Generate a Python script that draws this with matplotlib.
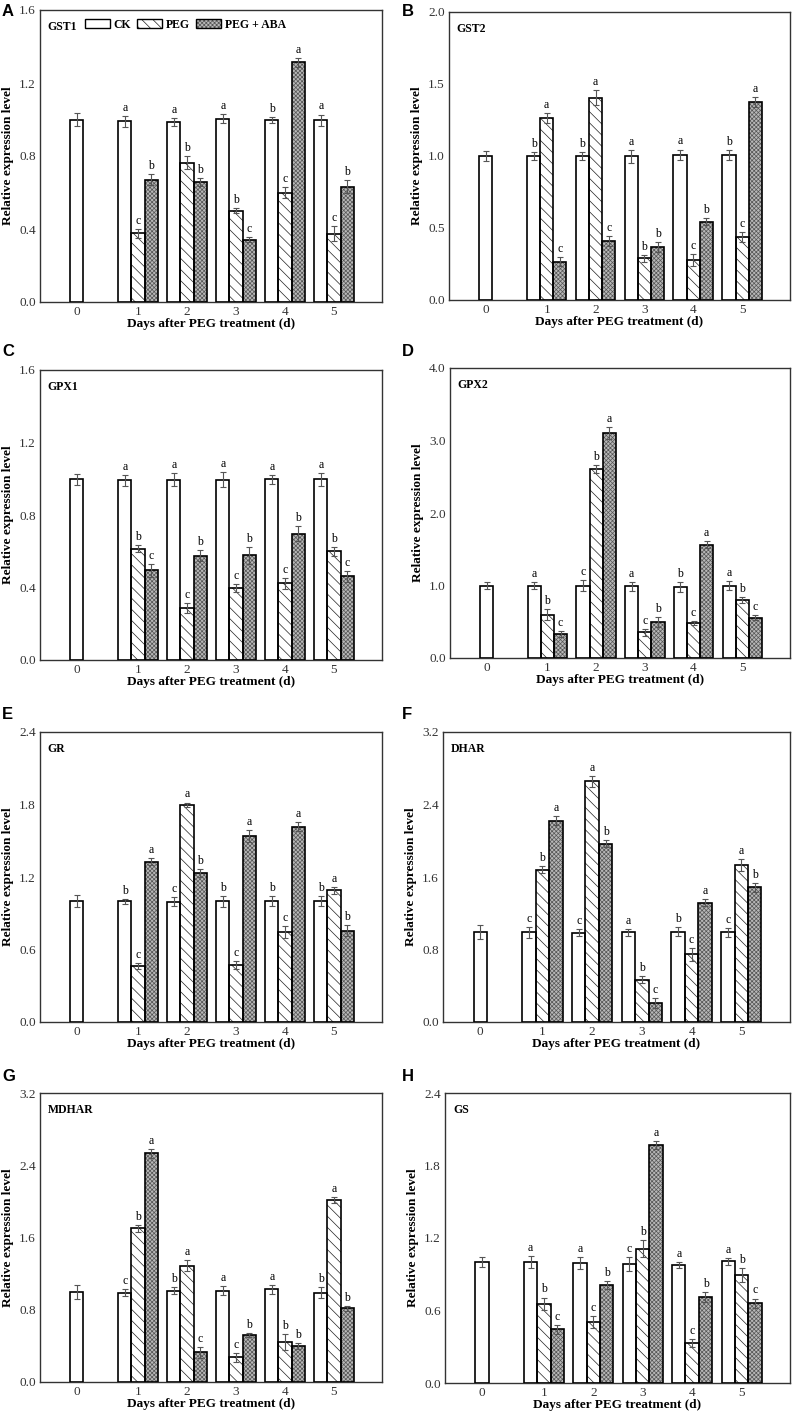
import numpy as np
import matplotlib.pyplot as plt
from matplotlib.patches import Patch
from matplotlib.legend_handler import HandlerTuple

plt.rcParams['font.family'] = ['Liberation Serif', 'DejaVu Serif']
plt.rcParams['hatch.linewidth'] = 0.5

days = ['0', '1', '2', '3', '4', '5']

# values: CK has day 0..5, PEG and PEG+ABA day 1..5
gst1_ck = [1.00, 0.99, 0.986, 1.004, 0.997, 0.997]
gst1_ck_err = [0.035, 0.03, 0.02, 0.025, 0.015, 0.03]
gst1_peg = [0.377, 0.764, 0.50, 0.598, 0.375]
gst1_peg_err = [0.025, 0.035, 0.015, 0.03, 0.04]
gst1_aba = [0.671, 0.658, 0.342, 1.313, 0.631]
gst1_aba_err = [0.03, 0.02, 0.015, 0.025, 0.035]
gst1_letters = ['acb', 'abb', 'abc', 'bca', 'acb']

gst2_ck = [1.00, 1.00, 1.00, 0.997, 1.01, 1.006]
gst2_ck_err = [0.035, 0.03, 0.03, 0.045, 0.035, 0.035]
gst2_peg = [1.262, 1.406, 0.289, 0.277, 0.435]
gst2_peg_err = [0.035, 0.05, 0.025, 0.04, 0.035]
gst2_aba = [0.266, 0.407, 0.37, 0.543, 1.376]
gst2_aba_err = [0.03, 0.035, 0.035, 0.025, 0.035]
gst2_letters = ['bac', 'bac', 'abb', 'acb', 'bca']

gpx1_ck = [0.997, 0.991, 0.995, 0.995, 0.997, 0.997]
gpx1_ck_err = [0.03, 0.03, 0.035, 0.04, 0.025, 0.035]
gpx1_peg = [0.614, 0.287, 0.397, 0.423, 0.60]
gpx1_peg_err = [0.02, 0.025, 0.02, 0.03, 0.025]
gpx1_aba = [0.495, 0.576, 0.577, 0.697, 0.462]
gpx1_aba_err = [0.035, 0.03, 0.045, 0.04, 0.03]
gpx1_letters = ['abc', 'acb', 'acb', 'acb', 'abc']

gpx2_ck = [1.00, 1.00, 1.00, 0.99, 0.977, 1.00]
gpx2_ck_err = [0.05, 0.05, 0.08, 0.06, 0.07, 0.06]
gpx2_peg = [0.60, 2.608, 0.355, 0.484, 0.797]
gpx2_peg_err = [0.07, 0.05, 0.05, 0.03, 0.04]
gpx2_aba = [0.327, 3.106, 0.498, 1.562, 0.558]
gpx2_aba_err = [0.04, 0.08, 0.07, 0.05, 0.04]
gpx2_letters = ['abc', 'cba', 'acb', 'bca', 'abc']

gr_ck = [1.00, 1.00, 0.996, 1.00, 1.00, 1.00]
gr_ck_err = [0.05, 0.02, 0.035, 0.045, 0.04, 0.04]
gr_peg = [0.466, 1.796, 0.472, 0.745, 1.09]
gr_peg_err = [0.025, 0.02, 0.03, 0.05, 0.03]
gr_aba = [1.327, 1.233, 1.537, 1.617, 0.756]
gr_aba_err = [0.03, 0.03, 0.05, 0.04, 0.045]
gr_letters = ['bca', 'cab', 'bca', 'bca', 'bab']

dhar_ck = [0.992, 0.988, 0.984, 0.988, 0.995, 0.988]
dhar_ck_err = [0.08, 0.06, 0.04, 0.04, 0.05, 0.05]
dhar_peg = [1.681, 2.654, 0.468, 0.745, 1.733]
dhar_peg_err = [0.04, 0.06, 0.04, 0.07, 0.07]
dhar_aba = [2.223, 1.969, 0.21, 1.316, 1.486]
dhar_aba_err = [0.05, 0.04, 0.05, 0.04, 0.05]
dhar_letters = ['cba', 'cab', 'abc', 'bca', 'cab']

mdhar_ck = [0.999, 0.991, 1.01, 1.01, 1.025, 0.991]
mdhar_ck_err = [0.08, 0.04, 0.04, 0.05, 0.05, 0.06]
mdhar_peg = [1.702, 1.287, 0.274, 0.444, 2.016]
mdhar_peg_err = [0.04, 0.06, 0.05, 0.09, 0.03]
mdhar_aba = [2.534, 0.329, 0.518, 0.40, 0.814]
mdhar_aba_err = [0.05, 0.06, 0.02, 0.03, 0.03]
mdhar_letters = ['cba', 'bac', 'acb', 'abb', 'bab']

gs_ck = [0.999, 1.004, 0.996, 0.985, 0.979, 1.007]
gs_ck_err = [0.04, 0.05, 0.05, 0.06, 0.025, 0.03]
gs_peg = [0.657, 0.502, 1.112, 0.331, 0.894]
gs_peg_err = [0.05, 0.05, 0.07, 0.03, 0.06]
gs_aba = [0.444, 0.811, 1.97, 0.712, 0.659]
gs_aba_err = [0.035, 0.03, 0.03, 0.04, 0.04]
gs_letters = ['abc', 'acb', 'cba', 'acb', 'abc']

xpos = np.array([0, 1.25, 2.25, 3.25, 4.25, 5.25])
w = 0.27
peg_hatch = '\\\\\\'
aba_face = '#b8b8b8'
aba_hatch = 'xxxxxxxx'
aba_hcolor = '#555555'


def hatched_bar(ax, x, h, face, hatch, hcolor):
    ax.bar(x, h, w, color=face, hatch=hatch, edgecolor=hcolor, lw=0, zorder=2)
    ax.bar(x, h, w, fill=False, edgecolor='black', lw=1.2, zorder=3)


def panel(ax, name, ck, ck_err, peg, peg_err, aba, aba_err, letters, ymax, step):
    ck_x = np.concatenate([[xpos[0]], xpos[1:] - w])
    peg_x = xpos[1:]
    aba_x = xpos[1:] + w
    ax.bar(ck_x, ck, w, color='white', edgecolor='black', lw=1.2, zorder=3)
    hatched_bar(ax, peg_x, peg, 'white', peg_hatch, '#222222')
    hatched_bar(ax, aba_x, aba, aba_face, aba_hatch, aba_hcolor)
    for xs, ys, es in [(ck_x, ck, ck_err), (peg_x, peg, peg_err), (aba_x, aba, aba_err)]:
        ax.errorbar(xs, ys, yerr=es, fmt='none', ecolor='#555555',
                    elinewidth=0.8, capsize=2.5, capthick=0.8, zorder=4)
    for i, lt in enumerate(letters):
        grp = [(ck_x[i + 1], ck[i + 1], ck_err[i + 1]),
               (peg_x[i], peg[i], peg_err[i]),
               (aba_x[i], aba[i], aba_err[i])]
        for (x, y, e), l in zip(grp, lt):
            ax.annotate(l, (x, y + e), xytext=(0, 1.5), textcoords='offset points',
                        ha='center', va='bottom', fontsize=8.5)
    ticks = np.arange(0, ymax + step / 2, step)
    ax.set_xlim(-0.75, 6.23)
    ax.set_ylim(0, ymax)
    ax.set_yticks(ticks)
    ax.set_yticklabels([f'{v:.1f}' for v in ticks])
    ax.set_xticks(xpos)
    ax.set_xticklabels(days)
    ax.tick_params(length=0, labelsize=9.5, pad=3, labelcolor='#333333')
    for s in ax.spines.values():
        s.set_linewidth(1.0)
        s.set_color('#333333')
    ax.set_xlabel('Days after PEG treatment (d)', fontweight='bold', fontsize=9.5, labelpad=0)
    ax.set_ylabel('Relative expression level', fontweight='bold', fontsize=9.5, labelpad=4)
    ax.text(0.023, 0.962, name, transform=ax.transAxes, fontweight='bold',
            fontsize=8.5, va='top', ha='left')


fig = plt.figure(figsize=(7.95, 14.17), dpi=100)
W, H = 795, 1417


def add_axes(l, r, t, b):
    return fig.add_axes([l / W, 1 - b / H, (r - l) / W, (b - t) / H])


panels = [
    ('A', 'GST1', gst1_ck, gst1_ck_err, gst1_peg, gst1_peg_err, gst1_aba, gst1_aba_err, gst1_letters, 1.6, 0.4,
     (40, 382, 10, 302), (2, 4)),
    ('B', 'GST2', gst2_ck, gst2_ck_err, gst2_peg, gst2_peg_err, gst2_aba, gst2_aba_err, gst2_letters, 2.0, 0.5,
     (449, 790, 12, 300), (402, 4)),
    ('C', 'GPX1', gpx1_ck, gpx1_ck_err, gpx1_peg, gpx1_peg_err, gpx1_aba, gpx1_aba_err, gpx1_letters, 1.6, 0.4,
     (40, 382, 370, 660), (2, 344)),
    ('D', 'GPX2', gpx2_ck, gpx2_ck_err, gpx2_peg, gpx2_peg_err, gpx2_aba, gpx2_aba_err, gpx2_letters, 4.0, 1.0,
     (450, 790, 368, 658), (402, 344)),
    ('E', 'GR', gr_ck, gr_ck_err, gr_peg, gr_peg_err, gr_aba, gr_aba_err, gr_letters, 2.4, 0.6,
     (40, 382, 732, 1022), (2, 707)),
    ('F', 'DHAR', dhar_ck, dhar_ck_err, dhar_peg, dhar_peg_err, dhar_aba, dhar_aba_err, dhar_letters, 3.2, 0.8,
     (443, 790, 732, 1022), (402, 707)),
    ('G', 'MDHAR', mdhar_ck, mdhar_ck_err, mdhar_peg, mdhar_peg_err, mdhar_aba, mdhar_aba_err, mdhar_letters, 3.2, 0.8,
     (40, 382, 1093, 1382), (2, 1069)),
    ('H', 'GS', gs_ck, gs_ck_err, gs_peg, gs_peg_err, gs_aba, gs_aba_err, gs_letters, 2.4, 0.6,
     (445, 790, 1093, 1383), (402, 1069)),
]

for p in panels:
    tag, name, ck, cke, peg, pege, aba, abae, lets, ymax, step, box, tagpos = p
    ax = add_axes(*box)
    panel(ax, name, ck, cke, peg, pege, aba, abae, lets, ymax, step)
    fig.text(tagpos[0] / W, 1 - tagpos[1] / H, tag, family='Liberation Sans',
             fontweight='bold', fontsize=12, va='top', ha='left')
    if tag == 'A':
        h_ck = Patch(facecolor='white', edgecolor='black', lw=1.0)
        h_peg = (Patch(facecolor='white', hatch=peg_hatch, edgecolor='#222222', lw=0),
                 Patch(fill=False, edgecolor='black', lw=1.0))
        h_aba = (Patch(facecolor=aba_face, hatch=aba_hatch, edgecolor=aba_hcolor, lw=0),
                 Patch(fill=False, edgecolor='black', lw=1.0))
        ax.legend([h_ck, h_peg, h_aba], ['CK', 'PEG', 'PEG + ABA'],
                  handler_map={tuple: HandlerTuple(ndivide=1, pad=0)},
                  loc='center left', bbox_to_anchor=(0.114, 0.949), ncol=3,
                  frameon=False, borderpad=0, handlelength=2.1, handleheight=0.75,
                  handletextpad=0.35, columnspacing=0.5,
                  prop={'weight': 'bold', 'size': 8.5})

fig.savefig('out.png', dpi=100)
